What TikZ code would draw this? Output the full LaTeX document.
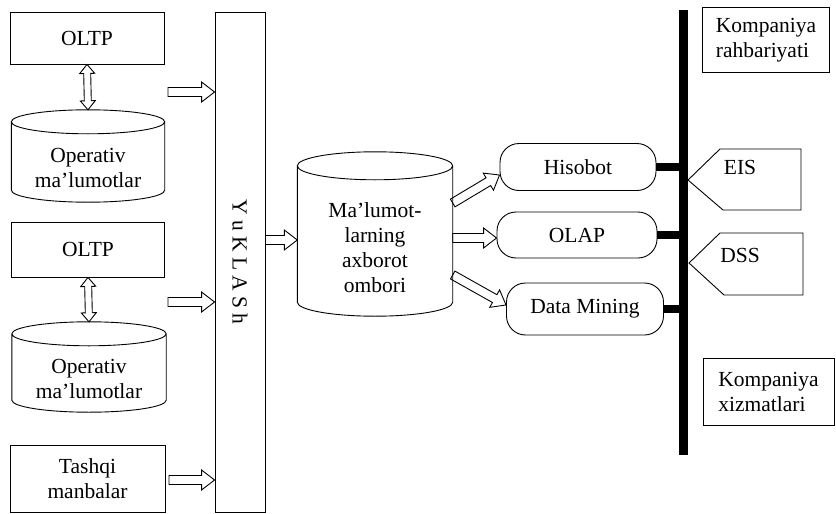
\documentclass[tikz,border=0pt]{standalone}
\usepackage{fontspec}
\setmainfont{Liberation Serif}
\usetikzlibrary{calc}

% cylinder outline round a node that holds the body text
\newcommand{\dbshape}[2]{%
  \draw[line width=0.9pt] let \p1=($(#1.east)-(#1.west)$) in
    ([yshift=#2]#1.north west) -- ([yshift=#2]#1.south west)
    arc[start angle=180, end angle=360, x radius=0.5*\x1, y radius=#2] -- ([yshift=#2]#1.north east)
    ([yshift=#2]#1.north) ellipse [x radius=0.5*\x1, y radius=#2];
}

\begin{document}
\begin{tikzpicture}[x=1pt, y=-1pt,
  every node/.style={font=\fontsize{21.5}{25}\selectfont},
  box/.style={draw, line width=0.9pt, align=center, inner sep=0pt},
  dbase/.style={align=center, inner sep=0pt},
  pill/.style={draw, line width=0.9pt, rounded corners=19pt, inner sep=0pt},
  fat/.style={line width=0.9pt, to path={let \p1=($(\tikztotarget)-(\tikztostart)$), \n1={veclen(\x1,\y1)}, \n2={atan2(\y1,\x1)} in
    [shift={(\tikztostart)}, rotate=\n2] (0pt,-4.5pt) -- ({\n1-13pt},-4.5pt) -- ({\n1-13pt},-10pt) -- ({\n1+0pt},0pt)
    -- ({\n1-13pt},10pt) -- ({\n1-13pt},4.5pt) -- (0pt,4.5pt) -- cycle}},
  fatboth/.style={line width=0.9pt, to path={let \p1=($(\tikztotarget)-(\tikztostart)$), \n1={veclen(\x1,\y1)}, \n2={atan2(\y1,\x1)} in
    [shift={(\tikztostart)}, rotate=\n2] (0pt,0pt) -- (9pt,-7.5pt) -- (9pt,-3.5pt) -- ({\n1-9pt},-3.5pt) -- ({\n1-9pt},-7.5pt)
    -- ({\n1+0pt},0pt) -- ({\n1-9pt},7.5pt) -- ({\n1-9pt},3.5pt) -- (9pt,3.5pt) -- (9pt,7.5pt) -- cycle}},
  bus/.style={line width=9pt},
  tap/.style={line width=8pt}]

  \useasboundingbox (0,0) rectangle (836,514);

  % sources
  \node[box, minimum width=154pt, minimum height=52pt] (oltpA) at (87,38) {OLTP};
  \node[dbase, minimum width=153pt, minimum height=68pt] (opA) at (88,168) {Operativ\\ma’lumotlar};
  \node[box, minimum width=153pt, minimum height=55pt] (oltpB) at (88,249.5) {OLTP};
  \node[dbase, minimum width=154pt, minimum height=66pt] (opB) at (89,379) {Operativ\\ma’lumotlar};
  \node[box, minimum width=155pt, minimum height=67pt] (tashqi) at (87.5,478.5) {Tashqi\\manbalar};
  \dbshape{opA}{12pt}
  \dbshape{opB}{12pt}

  % loading bar
  \node[box, minimum width=50pt, minimum height=500pt,
        label={[rotate=-90]center:Y u K L A S h}] (bar) at (240,262) {};

  % warehouse and tools
  \node[dbase, minimum width=155pt, minimum height=136pt] (dw) at (375,248) {Ma’lumot-\\larning\\axborot\\ombori};
  \dbshape{dw}{14pt}
  \node[pill, minimum width=156pt, minimum height=47pt] (hisobot) at (578,167) {Hisobot};
  \node[pill, minimum width=160pt, minimum height=46pt] (olap) at (577,235) {OLAP};
  \node[pill, minimum width=157pt, minimum height=52pt] (dmining) at (585,309) {Data Mining};

  % users
  \coordinate (bustop) at (683,10);
  \coordinate (busbot) at (683,455);
  \node[box, align=left, minimum width=127pt, minimum height=65pt] (rahbar) at (766,40) {Kompaniya\\rahbariyati};
  \node (eis) at (740,167) {EIS};
  \node (dss) at (740,255) {DSS};
  \node[box, align=left, minimum width=131pt, minimum height=67pt] (xizmat) at (768.5,391.5) {Kompaniya\\xizmatlari};
  \draw[line width=0.9pt] (688,180) -- (720,149) -- (801,149) -- (801,210) -- (723,210) -- cycle;
  \draw[line width=0.9pt] (689,263) -- (720,233) -- (803,233) -- (803,295) -- (724,295) -- cycle;

  % arrows
  \draw[fatboth] (oltpA.south) to ([yshift=24pt]opA.north);
  \draw[fatboth] (oltpB.south) to ([yshift=24pt]opB.north);
  \coordinate (inA) at (168,92);
  \coordinate (inB) at (168,302);
  \coordinate (inC) at (169,480);
  \draw[fat] (inA) to (inA -| bar.west);
  \draw[fat] (inB) to (inB -| bar.west);
  \draw[fat] (inC) to (inC -| bar.west);
  \coordinate (outA) at (0,240);
  \draw[fat] (bar.east |- outA) to (dw.west |- outA);
  \draw[fat] ($(dw.east)+(0,-45)$) to ($(hisobot.west)+(0,8)$);
  \draw[fat] ($(dw.east)+(0,-10)$) to ($(olap.west)+(0,3)$);
  \draw[fat] ($(dw.east)+(0,27)$) to ($(dmining.west)+(0,-4)$);

  % bus
  \draw[bus] (bustop) -- (busbot);
  \draw[tap] (hisobot.east) -- (hisobot.east -| bustop);
  \draw[tap] (olap.east) -- (olap.east -| bustop);
  \draw[tap] (dmining.east) -- (dmining.east -| bustop);
\end{tikzpicture}
\end{document}
